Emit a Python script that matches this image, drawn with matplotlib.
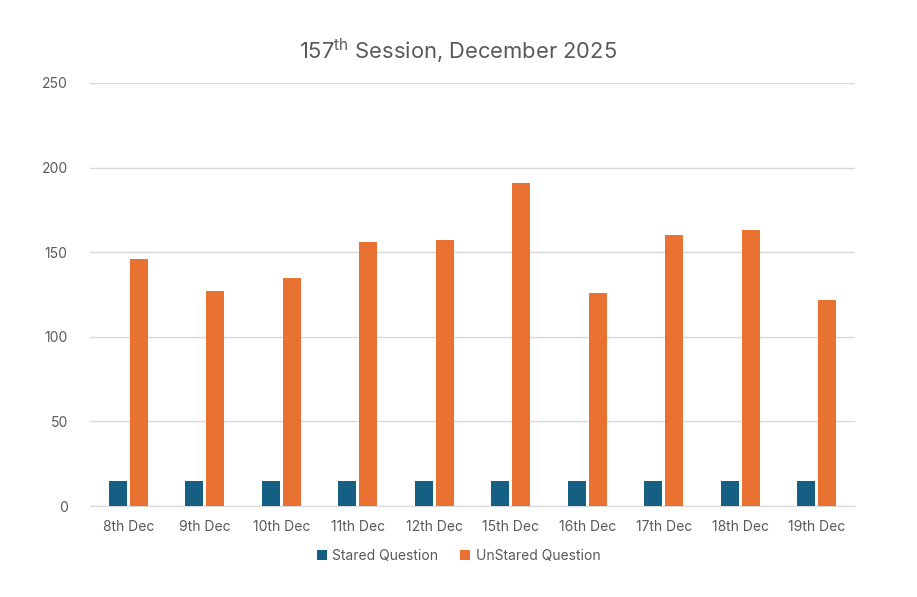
import matplotlib
matplotlib.use("Agg")
import matplotlib.pyplot as plt
import numpy as np

categories = ["8th Dec", "9th Dec", "10th Dec", "11th Dec", "12th Dec",
              "15th Dec", "16th Dec", "17th Dec", "18th Dec", "19th Dec"]
stared = [15, 15, 15, 15, 15, 15, 15, 15, 15, 15]
unstared = [146, 127, 135, 156, 157, 191, 126, 160, 163, 122]
series_names = ["Stared Question", "UnStared Question"]
yticks = [0, 50, 100, 150, 200, 250]

FONT = "Inter"
plt.rcParams['font.family'] = [FONT, 'DejaVu Sans']
plt.rcParams['mathtext.fontset'] = 'custom'
plt.rcParams['mathtext.rm'] = FONT
TXT = "#595959"

fig = plt.figure(figsize=(9.17, 5.97), dpi=100)
ax = fig.add_axes([90/917, 1-506/597, (855-90)/917, (506-83)/597])

x = np.arange(len(categories))
w = 0.235
off = 0.137
ax.bar(x - off, stared, w, color="#156082", label=series_names[0], zorder=3)
ax.bar(x + off, unstared, w, color="#E97132", label=series_names[1], zorder=3)

ax.set_xlim(-0.5, len(categories) - 0.5)
ax.set_ylim(0, 250)
ax.set_yticks(yticks)
ax.set_xticks(x)
ax.set_xticklabels(categories)
ax.grid(axis='y', color="#D9D9D9", linewidth=1, zorder=0)
for s in ["top", "right", "left"]:
    ax.spines[s].set_visible(False)
ax.spines["bottom"].set_color("#D9D9D9")
ax.tick_params(axis='both', length=0, colors=TXT, labelsize=10)
ax.tick_params(axis='y', pad=16)
ax.tick_params(axis='x', pad=10)

fig.text(0.5, 1-51/597, r"157$^{\mathrm{th}}$ Session, December 2025",
         ha='center', va='center', fontsize=15.8, color=TXT)

leg = fig.legend(loc='center', bbox_to_anchor=(0.5, 1-556/597), ncol=2,
                 frameon=False, fontsize=10, handlelength=0.7, handleheight=0.7,
                 handletextpad=0.4, columnspacing=1.6)
for t in leg.get_texts():
    t.set_color(TXT)

fig.savefig("out.png", dpi=100, facecolor="white")
